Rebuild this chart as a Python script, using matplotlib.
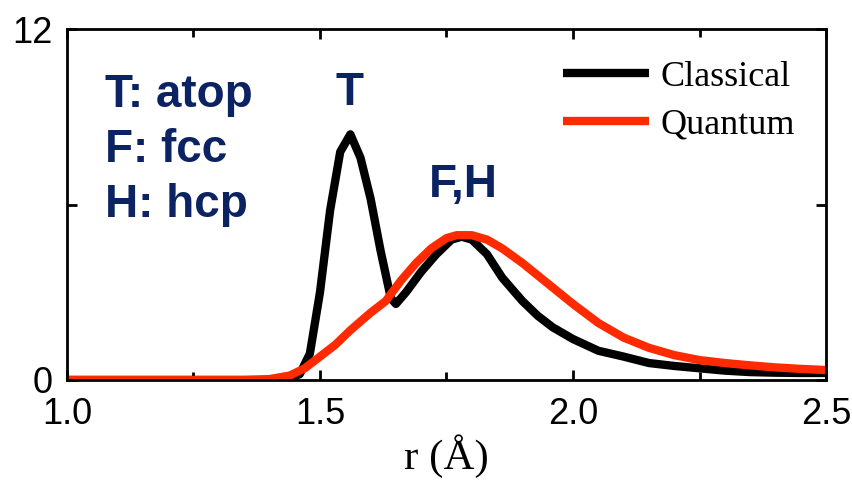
import matplotlib.pyplot as plt
from matplotlib.ticker import MultipleLocator

# Classical curve
r_classical = [1.00, 1.40, 1.44, 1.46, 1.48, 1.50, 1.52, 1.54, 1.56, 1.58, 1.60,
               1.62, 1.64, 1.65, 1.67, 1.70, 1.73, 1.76, 1.78, 1.80, 1.83, 1.86,
               1.90, 1.93, 1.96, 2.00, 2.05, 2.10, 2.15, 2.20, 2.25, 2.30, 2.35,
               2.40, 2.45, 2.50]
g_classical = [0.0, 0.0, 0.05, 0.2, 0.9, 3.0, 5.8, 7.8, 8.4, 7.6, 6.2,
               4.4, 2.8, 2.6, 3.0, 3.7, 4.3, 4.8, 4.9, 4.8, 4.3, 3.5,
               2.7, 2.2, 1.8, 1.4, 1.0, 0.8, 0.58, 0.48, 0.4, 0.32, 0.27,
               0.25, 0.24, 0.24]

# Quantum curve
r_quantum = [1.00, 1.35, 1.40, 1.44, 1.47, 1.50, 1.53, 1.56, 1.60, 1.63, 1.66,
             1.69, 1.72, 1.75, 1.77, 1.80, 1.83, 1.86, 1.90, 1.95, 2.00, 2.05,
             2.10, 2.15, 2.20, 2.25, 2.30, 2.35, 2.40, 2.45, 2.50]
g_quantum = [0.0, 0.0, 0.03, 0.15, 0.4, 0.8, 1.2, 1.7, 2.3, 2.7, 3.4,
             4.0, 4.5, 4.85, 4.95, 4.95, 4.8, 4.5, 4.0, 3.3, 2.6, 1.95,
             1.45, 1.1, 0.85, 0.68, 0.58, 0.5, 0.43, 0.38, 0.34]

site_labels = ['T: atop', 'F: fcc', 'H: hcp']

navy = '#0b2263'
red = '#ff2a00'

fig = plt.figure(figsize=(8.52, 4.84), dpi=100)
ax = fig.add_axes([0.0786, 0.2149, 0.8909, 0.7251])

ax.plot(r_classical, g_classical, color='black', lw=6, label='Classical',
        solid_joinstyle='round', solid_capstyle='butt')
ax.plot(r_quantum, g_quantum, color=red, lw=6, label='Quantum',
        solid_joinstyle='round', solid_capstyle='butt')

ax.set_xlim(1.0, 2.5)
ax.set_ylim(0, 12)
ax.set_xticks([1.0, 1.5, 2.0, 2.5])
ax.set_xticklabels(['1.0', '1.5', '2.0', '2.5'], family='Liberation Sans', fontsize=26)
ax.xaxis.set_minor_locator(MultipleLocator(0.25))
ax.set_yticks([0, 6, 12])
ax.set_yticklabels(['0', '', '12'], family='Liberation Sans', fontsize=26)
ax.tick_params(which='both', direction='in', top=True, right=True, width=2)
ax.tick_params(which='major', length=7)
ax.tick_params(axis='x', which='major', pad=12)
ax.tick_params(axis='y', which='major', pad=10)
ax.tick_params(which='minor', length=6)
for s in ax.spines.values():
    s.set_linewidth(2)

ax.set_xlabel('r (Å)', family='Liberation Serif', fontsize=31, labelpad=2)

# site annotations
for lab, yb in zip(site_labels, [0.778, 0.621, 0.464]):
    ax.text(0.05, yb, lab, transform=ax.transAxes, color=navy,
            family='Liberation Sans', fontweight='bold', fontsize=33, va='baseline')
ax.text(1.559, 9.4, 'T', color=navy, family='Liberation Sans',
        fontweight='bold', fontsize=33, ha='center', va='baseline')
ax.text(1.783, 6.26, 'F,H', color=navy, family='Liberation Sans',
        fontweight='bold', fontsize=33, ha='center', va='baseline')

ax.legend(loc='center left', bbox_to_anchor=(0.653, 0.794), frameon=False,
          prop={'family': 'Liberation Serif', 'size': 26}, handlelength=2.4,
          handletextpad=0.3, labelspacing=0.4, borderpad=0, borderaxespad=0)

fig.savefig('out.png', dpi=100)
